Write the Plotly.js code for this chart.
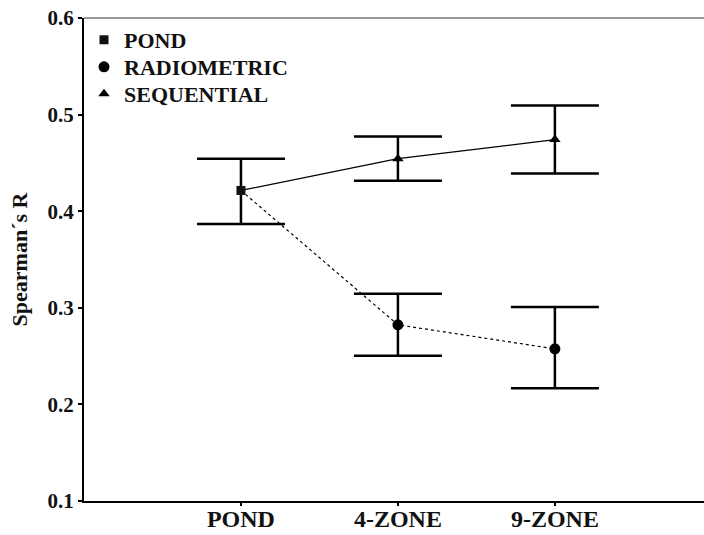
<!DOCTYPE html>
<html>
<head>
<meta charset="utf-8">
<script src="https://cdn.plot.ly/plotly-3.0.1.min.js"></script>
<style>
  html, body { margin: 0; padding: 0; background: #fff; }
  #chart { width: 704px; height: 535px; }
</style>
</head>
<body>
<div id="chart"></div>
<script>
// ---- data ----
const categories = ['POND', '4-ZONE', '9-ZONE'];

// POND baseline (shared start point of both methods)
const pondR  = [0.4215];
const pondHi = [0.4544];
const pondLo = [0.3867];

// RADIOMETRIC (first value = shared POND point)
const radiometricR  = [0.4215, 0.2824, 0.2575];
const radiometricHi = [null,   0.3145, 0.3008];
const radiometricLo = [null,   0.2503, 0.2166];

// SEQUENTIAL (first value = shared POND point)
const sequentialR  = [0.4215, 0.4544, 0.4741];
const sequentialHi = [null,   0.4772, 0.5093];
const sequentialLo = [null,   0.4316, 0.4389];

const yTicks = [0.1, 0.2, 0.3, 0.4, 0.5, 0.6];

// ---- helpers ----
function errPlus(v, hi)  { return hi.map((h, i) => +(h - v[i]).toFixed(4)); }
function errMinus(v, lo) { return lo.map((l, i) => +(v[i] - l).toFixed(4)); }

const FONT = 'Liberation Serif, Times New Roman, serif';
const errStyle = { color: '#000', thickness: 2.5, width: 44 };

const radX = categories.slice(1), radY = radiometricR.slice(1);
const seqX = categories.slice(1), seqY = sequentialR.slice(1);

const traces = [
  { // connecting lines
    x: categories, y: sequentialR, type: 'scatter', mode: 'lines',
    line: { color: '#000', width: 1.2 }, showlegend: false, hoverinfo: 'skip'
  },
  {
    x: categories, y: radiometricR, type: 'scatter', mode: 'lines',
    line: { color: '#000', width: 1.2, dash: 'dot' }, showlegend: false, hoverinfo: 'skip'
  },
  {
    name: 'POND', legend: 'legend', x: categories.slice(0, 1), y: pondR, type: 'scatter', mode: 'markers',
    marker: { symbol: 'square', size: 9, color: '#111' },
    error_y: Object.assign({ type: 'data', symmetric: false,
      array: errPlus(pondR, pondHi), arrayminus: errMinus(pondR, pondLo) }, errStyle)
  },
  {
    name: 'RADIOMETRIC', legend: 'legend2', x: radX, y: radY, type: 'scatter', mode: 'markers',
    marker: { symbol: 'circle', size: 11, color: '#000' },
    error_y: Object.assign({ type: 'data', symmetric: false,
      array: errPlus(radY, radiometricHi.slice(1)),
      arrayminus: errMinus(radY, radiometricLo.slice(1)) }, errStyle)
  },
  {
    name: 'SEQUENTIAL', legend: 'legend3', x: seqX, y: seqY, type: 'scatter', mode: 'markers',
    marker: { symbol: 'triangle-up', size: 10, color: '#000' },
    error_y: Object.assign({ type: 'data', symmetric: false,
      array: errPlus(seqY, sequentialHi.slice(1)),
      arrayminus: errMinus(seqY, sequentialLo.slice(1)) }, errStyle)
  }
];

function legendAt(y) {
  return {
    x: 0.0, y: y, xanchor: 'left', yanchor: 'middle',
    bgcolor: 'rgba(0,0,0,0)', borderwidth: 0,
    font: { family: FONT, size: 22, color: '#111', weight: 'bold' }
  };
}

const layout = {
  width: 704, height: 535,
  margin: { l: 84, r: 0, t: 18, b: 34 },
  paper_bgcolor: '#fff', plot_bgcolor: '#fff',
  font: { family: FONT, color: '#000' },
  showlegend: true,
  legend:  legendAt(0.9545),
  legend2: legendAt(0.8986),
  legend3: legendAt(0.8427),
  xaxis: {
    type: 'category', categoryorder: 'array', categoryarray: categories,
    range: [-1, 2.95],
    showline: true, linecolor: '#000', linewidth: 2,
    ticks: 'outside', ticklen: 3, tickwidth: 2, tickcolor: '#000',
    ticklabelstandoff: -8,
    showgrid: false, zeroline: false,
    tickfont: { family: FONT, size: 24, color: '#111', weight: 'bold' }
  },
  yaxis: {
    range: [0.1, 0.6], tickvals: yTicks, ticktext: yTicks.map(v => v.toFixed(1)),
    showline: true, linecolor: '#000', linewidth: 2,
    ticks: 'outside', ticklen: 4, tickwidth: 2, tickcolor: '#000',
    showgrid: false, zeroline: false,
    tickfont: { family: FONT, size: 21, color: '#111', weight: 'bold' },
    title: { text: 'Spearman´s R', standoff: 14,
      font: { family: FONT, size: 22, color: '#111', weight: 'bold' } }
  },
  shapes: [{
    type: 'line', xref: 'paper', yref: 'paper', x0: 0, x1: 1, y0: 1, y1: 1,
    line: { color: '#333', width: 1 }
  }]
};

Plotly.newPlot('chart', traces, layout, { displayModeBar: false, staticPlot: true });
</script>
</body>
</html>
